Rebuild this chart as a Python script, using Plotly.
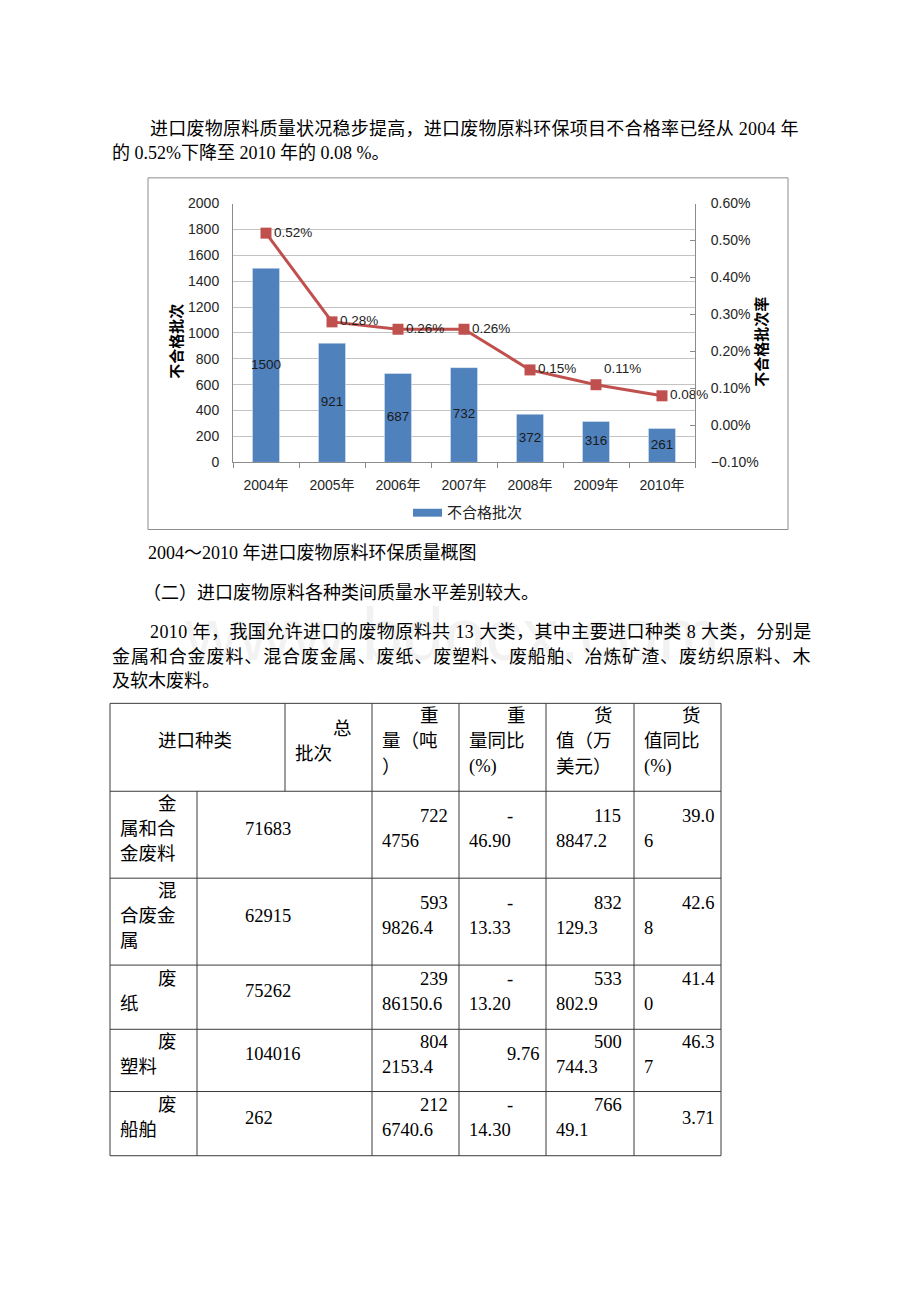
import plotly.graph_objects as go

W, H = 920, 1302

# ---------------- data ----------------
years = ['2004年', '2005年', '2006年', '2007年', '2008年', '2009年', '2010年']
batches = [1500, 921, 687, 732, 372, 316, 261]          # 不合格批次
rates = [0.52, 0.28, 0.26, 0.26, 0.15, 0.11, 0.08]      # 不合格批次率 (%)
rate_label_pos = ['middle right'] * 5 + ['top right', 'middle right']

table_header = ['进口种类', '总批次', '重量（吨）', '重量同比(%)', '货值（万美元）', '货值同比(%)']
kinds = ['金属和合金废料', '混合废金属', '废纸', '废塑料', '废船舶']
kind_batches = ['71683', '62915', '75262', '104016', '262']
weights = ['7224756', '5939826.4', '23986150.6', '8042153.4', '2126740.6']
weight_yoy = ['-46.90', '-13.33', '-13.20', '9.76', '-14.30']
values = ['1158847.2', '832129.3', '533802.9', '500744.3', '76649.1']
value_yoy = ['39.06', '42.68', '41.40', '46.37', '3.71']

# (x, y, text, letter-spacing px)
body_lines = [
    (148, 123, '进口废物原料质量状况稳步提高，进口废物原料环保项目不合格率已经从 2004 年', 0.25),
    (110, 147, '的 0.52%下降至 2010 年的 0.08 %。', 0),
    (146, 552, '2004～2010 年进口废物原料环保质量概图', 0),
    (141, 592, '（二）进口废物原料各种类间质量水平差别较大。', 0),
    (148, 632, '2010 年，我国允许进口的废物原料共 13 大类，其中主要进口种类 8 大类，分别是', 0.42),
    (110, 657, '金属和合金废料、混合废金属、废纸、废塑料、废船舶、冶炼矿渣、废纺织原料、木', 0.9),
    (110, 681, '及软木废料。', 0),
]

SANS = 'Liberation Sans, Noto Sans CJK SC, sans-serif'
SERIF = 'Liberation Serif, Noto Sans CJK SC, serif'
BLUE = '#4F81BD'
RED = '#C0504D'
AXIS = '#8C8C8C'

def px(x):
    return x / W

def py(y):
    return 1 - y / H

annotations = []
shapes = []

def txt(x, y, s, size=18, anchor='left', family=SERIF, color='#000000', **kw):
    annotations.append(dict(x=px(x), y=py(y), xref='paper', yref='paper', text=s,
                            showarrow=False, xanchor=anchor, yanchor='middle',
                            font=dict(size=size, family=family, color=color), **kw))

def line(x0, y0, x1, y1, color='#3a3a3a', width=1):
    shapes.append(dict(type='line', xref='paper', yref='paper', x0=px(x0), y0=py(y0),
                       x1=px(x1), y1=py(y1), line=dict(color=color, width=width)))

# watermark
txt(452, 634, 'www.bdocx.com', size=74, anchor='center', family=SANS,
    color='rgba(0,0,0,0.05)')

# ---------------- body text ----------------
for x, y, s, ls in body_lines:
    if ls:
        s = f'<span style="letter-spacing:{ls}px">{s}</span>'
    txt(x, y, s)

# ---------------- chart ----------------
fig = go.Figure()
fig.add_trace(go.Bar(x=years, y=batches, marker_color=BLUE, width=0.41,
                     yaxis='y', hoverinfo='skip', showlegend=False))
fig.add_trace(go.Scatter(x=years, y=[b / 2 for b in batches], mode='text',
                         text=[str(b) for b in batches], yaxis='y',
                         textfont=dict(size=13.5, family=SANS, color='#1a1a1a'),
                         hoverinfo='skip', showlegend=False))
fig.add_trace(go.Scatter(x=years, y=rates, yaxis='y2', mode='lines+markers+text',
                         line=dict(color=RED, width=3),
                         marker=dict(symbol='square', size=11, color=RED),
                         text=[f'{r:.2f}%' for r in rates], textposition=rate_label_pos,
                         textfont=dict(size=13.5, family=SANS, color='#222222'),
                         cliponaxis=False, hoverinfo='skip', showlegend=False))

# chart frame
shapes.append(dict(type='rect', xref='paper', yref='paper', x0=px(148), y0=py(172),
                   x1=px(788), y1=py(528), line=dict(color=AXIS, width=1), layer='below'))

# axis titles
txt(177, 338, '<b>不合格批次</b>', size=15, anchor='center', family=SANS, textangle=-90)
txt(762, 338, '<b>不合格批次率</b>', size=15, anchor='center', family=SANS, textangle=-90)

# legend
shapes.append(dict(type='rect', xref='paper', yref='paper', x0=px(413), y0=py(507),
                   x1=px(442), y1=py(515), fillcolor=BLUE, line=dict(width=0)))
txt(445, 511, '不合格批次', size=15, family=SANS, color='#222222')

# ---------------- table ----------------
header_cols = [110, 285, 372, 459, 546, 634, 721]
body_cols = [110, 197, 372, 459, 546, 634, 721]
row_edges = [704, 793, 881, 969, 1034, 1097, 1162]

for y in row_edges:
    line(110, y, 721, y)
for x in [110, 372, 459, 546, 634, 721]:
    line(x, 704, x, 1162)
line(285, 704, 285, 793)
line(197, 793, 197, 1162)

def cw(c):
    if ord(c) > 0x2E80:
        return 18.5
    if c.isdigit():
        return 9.25
    return {'.': 4.6, '-': 6.2, '(': 6.2, ')': 6.2, '%': 15.4}.get(c, 9.0)

def wrap(s, cell_w):
    first_w, w = cell_w - 53, cell_w - 15
    lines, cur, cur_w, lim = [], '', 0.0, first_w
    if s.startswith('-') and sum(cw(c) for c in s) > first_w:
        lines.append('-')
        s, lim = s[1:], w
    for c in s:
        if cur and cur_w + cw(c) > lim:
            carry = ''
            if cur.endswith('('):
                carry, cur = '(', cur[:-1]
            lines.append(cur)
            cur, cur_w, lim = carry, sum(cw(k) for k in carry), w
        cur += c
        cur_w += cw(c)
    lines.append(cur)
    return lines

def cell(left, right, top, bottom, s):
    ls = wrap(s, right - left)
    cy = (top + bottom) / 2 - 6
    n = len(ls)
    for i, t in enumerate(ls):
        yy = cy + (i - (n - 1) / 2) * 25.5
        xx = left + 46 if i == 0 else left + 8
        txt(xx, yy, t, size=18.5)

for j, h in enumerate(table_header):
    cell(header_cols[j], header_cols[j + 1], row_edges[0], row_edges[1], h)

for i in range(len(kinds)):
    row = [kinds[i], kind_batches[i], weights[i], weight_yoy[i], values[i], value_yoy[i]]
    for j, v in enumerate(row):
        cell(body_cols[j], body_cols[j + 1], row_edges[i + 1], row_edges[i + 2], v)

# ---------------- layout ----------------
fig.update_layout(
    width=W, height=H, margin=dict(l=0, r=0, t=0, b=0),
    paper_bgcolor='white', plot_bgcolor='white', showlegend=False, hovermode=False,
    xaxis=dict(domain=[px(233), px(695)], type='category', showline=True, linecolor=AXIS,
               linewidth=1, ticks='outside', tickson='boundaries', ticklen=5,
               tickcolor=AXIS, showgrid=False, ticklabelstandoff=10,
               tickfont=dict(size=14, family=SANS, color='#262626')),
    yaxis=dict(domain=[py(460), py(198)], range=[0, 2000], dtick=200, showline=True,
               linecolor=AXIS, linewidth=1, showgrid=True, gridcolor='#C3C3C3',
               gridwidth=1.3, zeroline=False, ticks='', ticklabelstandoff=10,
               tickfont=dict(size=14, family=SANS, color='#262626')),
    yaxis2=dict(overlaying='y', side='right', anchor='x', range=[-0.1, 0.6], dtick=0.1,
                tickformat='.2f', ticksuffix='%', showline=True, linecolor=AXIS,
                linewidth=1, showgrid=False, zeroline=False, ticks='inside', ticklen=5,
                tickcolor=AXIS, ticklabelstandoff=12,
                tickfont=dict(size=14, family=SANS, color='#262626')),
    annotations=annotations, shapes=shapes,
)

fig.write_html('out.html')
